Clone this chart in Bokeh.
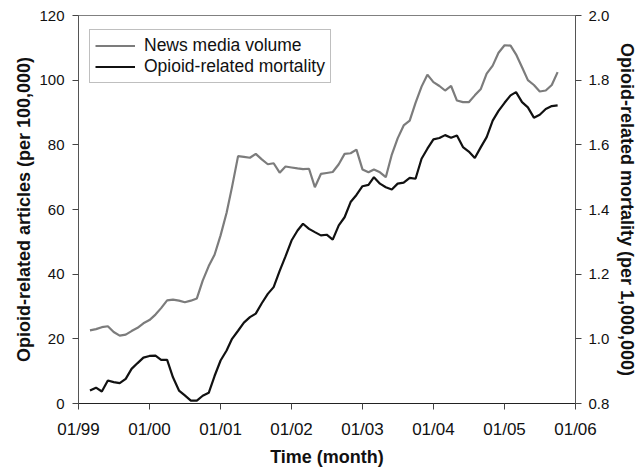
import pandas as pd
from bokeh.plotting import figure
from bokeh.models import (Range1d, LinearAxis, FixedTicker, DatetimeTickFormatter,
                          Legend, LegendItem, NumeralTickFormatter)
from bokeh.embed import file_html
from bokeh.resources import INLINE

# ---- data (monthly, Mar 1999 .. Oct 2005) ----
start_month = "1999-03-01"
news_volume = [22.6, 23.0, 23.6, 23.9, 22.1, 21.0, 21.3, 22.4, 23.4, 24.8,
               25.8, 27.5, 29.5, 31.9, 32.1, 31.8, 31.3, 31.8, 32.5, 38.0,
               42.5, 46.0, 52.0, 59.0, 67.0, 76.5, 76.3, 76.0, 77.2, 75.5,
               74.0, 74.3, 71.4, 73.3, 73.0, 72.7, 72.5, 72.6, 66.9, 71.0,
               71.3, 71.6, 74.0, 77.2, 77.4, 78.5, 72.4, 71.5, 72.4, 71.5,
               70.0, 77.0, 82.0, 86.0, 87.5, 93.0, 98.0, 101.7, 99.4, 98.2,
               96.8, 98.2, 93.7, 93.2, 93.2, 95.3, 97.3, 102.0, 104.5, 108.5,
               110.8, 110.7, 108.0, 104.0, 100.0, 98.5, 96.5, 96.8, 98.5, 102.5]
mortality = [0.840, 0.849, 0.837, 0.871, 0.866, 0.863, 0.876, 0.907, 0.925, 0.942,
             0.947, 0.948, 0.935, 0.935, 0.881, 0.840, 0.825, 0.809, 0.809, 0.824,
             0.833, 0.885, 0.933, 0.964, 1.000, 1.025, 1.050, 1.067, 1.078, 1.110,
             1.139, 1.160, 1.210, 1.255, 1.304, 1.335, 1.356, 1.340, 1.330, 1.320,
             1.322, 1.307, 1.351, 1.376, 1.423, 1.445, 1.472, 1.476, 1.500, 1.480,
             1.469, 1.462, 1.480, 1.483, 1.498, 1.495, 1.557, 1.588, 1.617, 1.621,
             1.630, 1.622, 1.629, 1.593, 1.579, 1.559, 1.593, 1.624, 1.675, 1.705,
             1.730, 1.753, 1.763, 1.732, 1.716, 1.684, 1.693, 1.711, 1.720, 1.722]
tick_years = ["1999", "2000", "2001", "2002", "2003", "2004", "2005", "2006"]
left_ticks = [0, 20, 40, 60, 80, 100, 120]
right_ticks = [0.8, 1.0, 1.2, 1.4, 1.6, 1.8, 2.0]

dates = pd.date_range(start_month, periods=len(news_volume), freq="MS")
tick_dates = [pd.Timestamp(y + "-01-01") for y in tick_years]
tick_ms = [t.value / 1e6 for t in tick_dates]

FONT = "Liberation Sans"
TXT = "#111111"

p = figure(width=640, height=469, output_backend="svg", toolbar_location=None,
           x_axis_type="datetime",
           x_range=Range1d(tick_dates[0], tick_dates[-1]),
           y_range=Range1d(0, 120),
           min_border_left=78, min_border_right=65, min_border_top=15, min_border_bottom=66)
p.extra_y_ranges = {"mort": Range1d(0.8, 2.0)}
p.grid.visible = False
p.outline_line_color = "#808080"
p.outline_line_width = 1
p.background_fill_color = "white"
p.border_fill_color = "white"

l1 = p.line(dates, news_volume, line_color="#7c7c7c", line_width=2.2)
l2 = p.line(dates, mortality, line_color="#111111", line_width=2.2, y_range_name="mort")

# x axis
xa = p.xaxis[0]
xa.ticker = FixedTicker(ticks=tick_ms)
fmt = "%m/%y"
xa.formatter = DatetimeTickFormatter(years=fmt, months=fmt, days=fmt, hours=fmt,
                                     minutes=fmt, seconds=fmt, milliseconds=fmt,
                                     microseconds=fmt, hourmin=fmt, minsec=fmt)
xa.axis_label = "Time (month)"
xa.major_label_text_font_size = "17px"
xa.major_label_standoff = 10
xa.axis_label_standoff = 5
xa.axis_line_color = "#222222"

# left axis
ya = p.yaxis[0]
ya.ticker = FixedTicker(ticks=left_ticks)
ya.axis_label = "Opioid-related articles (per 100,000)"
ya.major_label_text_font_size = "15px"
ya.major_label_standoff = 8
ya.axis_label_standoff = 2
ya.axis_line_color = "#555555"

# right axis
ra = LinearAxis(y_range_name="mort", ticker=FixedTicker(ticks=right_ticks),
                formatter=NumeralTickFormatter(format="0.0"),
                axis_label="Opioid-related mortality (per 1,000,000)")
ra.major_label_text_font_size = "15px"
ra.major_label_standoff = 7
ra.axis_label_standoff = 5
ra.axis_line_color = "#555555"
p.add_layout(ra, "right")

for ax in [xa, ya, ra]:
    ax.major_tick_out = 6
    ax.major_tick_in = 0
    ax.minor_tick_out = 0
    ax.minor_tick_in = 0
    ax.major_tick_line_color = "#444444"
    ax.major_label_text_font = FONT
    ax.major_label_text_color = TXT
    ax.axis_label_text_font = FONT
    ax.axis_label_text_font_style = "bold"
    ax.axis_label_text_font_size = "18px"
    ax.axis_label_text_color = TXT

legend = Legend(items=[LegendItem(label="News media volume", renderers=[l1]),
                       LegendItem(label="Opioid-related mortality", renderers=[l2])],
                location=(11, 320), margin=0, padding=5, spacing=0,
                glyph_width=40, glyph_height=21, label_height=21,
                label_standoff=9,
                label_text_font=FONT, label_text_font_size="17.5px",
                label_text_color=TXT,
                border_line_color="#808080", border_line_width=1,
                background_fill_color="white", background_fill_alpha=1)
p.add_layout(legend, "center")

open("out.html", "w").write(file_html(p, INLINE))
